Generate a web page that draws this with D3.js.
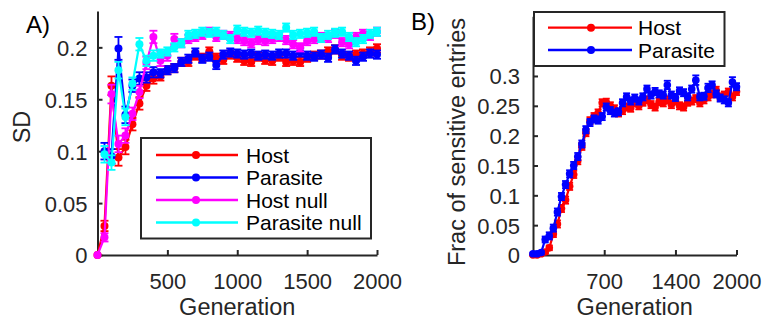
<!DOCTYPE html>
<html><head><meta charset="utf-8">
<script src="https://cdn.jsdelivr.net/npm/d3@7"></script>
<style>
body{margin:0;background:#fff}
svg{display:block}
</style>
</head><body>
<svg id="c" width="764" height="320"></svg>
<script>
// ---------- Panel A data ----------
const gensA = [0,50,100,150,200,250,300,350,400,450,500,550,600,650,700,750,800,850,900,950,1000,
  1050,1100,1150,1200,1250,1300,1350,1400,1450,1500,1550,1600,1650,1700,1750,1800,1850,1900,1950,2000];
const hostA = [0,0.028,0.163,0.094,0.104,0.126,0.146,0.163,0.170,0.172,0.178,0.180,0.186,0.186,0.192,0.190,0.196,0.190,0.188,0.193,0.190,
  0.187,0.186,0.191,0.188,0.187,0.191,0.186,0.187,0.186,0.190,0.192,0.193,0.196,0.198,0.192,0.191,0.193,0.194,0.196,0.199];
const parasiteA = [null,0.100,0.095,0.199,0.135,0.163,0.170,0.171,0.176,0.175,0.178,0.180,0.186,0.189,0.195,0.189,0.191,0.183,0.193,0.195,0.194,
  0.193,0.194,0.192,0.193,0.192,0.194,0.194,0.192,0.195,0.192,0.191,0.193,0.190,0.198,0.194,0.192,0.187,0.191,0.194,0.193];
const hostNullA = [0,0.017,0.155,0.107,0.115,0.136,0.157,0.185,0.210,0.187,0.192,0.208,0.204,0.208,0.210,0.212,0.215,0.210,0.212,0.211,0.208,
  0.206,0.204,0.207,0.206,0.208,0.210,0.207,0.203,0.200,0.206,0.208,0.210,0.209,0.213,0.205,0.203,0.210,0.213,0.211,0.215];
const parasiteNullA = [null,0.097,0.089,0.178,0.133,0.165,0.203,0.187,0.192,0.194,0.196,0.200,0.204,0.212,0.213,0.215,0.214,0.215,0.212,0.208,0.217,
  0.215,0.214,0.216,0.214,0.213,0.212,0.219,0.212,0.213,0.214,0.215,0.209,0.212,0.214,0.215,0.210,0.205,0.208,0.213,0.215];
const hostErrA = [0,0.005,0.009,0.008,0.007,0.006,0.006,0.005,0.005,0.004,0.004,0.004,0.004,0.004,0.004,0.004,0.004,0.004,0.004,0.004,0.004,
  0.004,0.004,0.004,0.004,0.004,0.004,0.004,0.004,0.004,0.004,0.004,0.004,0.004,0.004,0.004,0.004,0.004,0.004,0.004,0.004];
const parasiteErrA = [0,0.008,0.007,0.011,0.008,0.006,0.006,0.005,0.005,0.004,0.004,0.004,0.004,0.004,0.004,0.004,0.004,0.004,0.004,0.004,0.004,
  0.004,0.004,0.004,0.004,0.004,0.004,0.004,0.004,0.004,0.004,0.004,0.004,0.004,0.004,0.004,0.004,0.004,0.004,0.004,0.004];
const hostNullErrA = [0,0.004,0.009,0.008,0.007,0.006,0.006,0.006,0.006,0.005,0.005,0.005,0.004,0.004,0.004,0.004,0.004,0.004,0.004,0.004,0.004,
  0.004,0.004,0.004,0.004,0.004,0.004,0.004,0.004,0.004,0.004,0.004,0.004,0.004,0.004,0.004,0.004,0.004,0.004,0.004,0.004];
const parasiteNullErrA = [0,0.008,0.007,0.008,0.008,0.006,0.006,0.005,0.005,0.004,0.004,0.004,0.004,0.004,0.004,0.004,0.004,0.004,0.004,0.004,0.004,
  0.004,0.004,0.004,0.004,0.004,0.004,0.004,0.004,0.004,0.004,0.004,0.004,0.004,0.004,0.004,0.004,0.004,0.004,0.004,0.004];
const xTicksA = [500,1000,1500,2000];
const yTicksA = [0,0.05,0.1,0.15,0.2];
const yTickLabelsA = ["0","0.05","0.1","0.15","0.2"];
const legendA = ["Host","Parasite","Host null","Parasite null"];

// ---------- Panel B data ----------
const gensB = [0,40,80,120,160,200,240,280,320,360,400,440,480,520,560,600,640,680,720,760,800,840,880,920,960,1000,
  1040,1080,1120,1160,1200,1240,1280,1320,1360,1400,1440,1480,1520,1560,1600,1640,1680,1720,1760,1800,1840,1880,1920,1960,2000];
const hostB = [0.000,0.000,0.002,0.005,0.012,0.035,0.052,0.078,0.092,0.115,
  0.135,0.158,0.182,0.205,0.225,0.232,0.238,0.255,0.256,0.250,
  0.245,0.238,0.242,0.248,0.246,0.255,0.250,0.256,0.260,0.252,
  0.248,0.257,0.255,0.260,0.252,0.258,0.250,0.248,0.256,0.258,
  0.262,0.255,0.260,0.265,0.270,0.276,0.265,0.268,0.273,0.265,
  0.274];
const parasiteB = [0.002,0.002,0.004,0.026,0.032,0.045,0.072,0.098,0.118,0.136,
  0.150,0.165,0.186,0.210,0.222,0.228,0.226,0.232,0.248,0.242,
  0.238,0.240,0.255,0.265,0.258,0.263,0.258,0.265,0.278,0.268,
  0.274,0.270,0.268,0.285,0.268,0.264,0.275,0.272,0.265,0.278,
  0.293,0.265,0.266,0.280,0.285,0.270,0.263,0.260,0.255,0.290,
  0.282];
const hostErrB = [0.001,0.001,0.002,0.003,0.004,0.005,0.006,0.006,0.006,0.006,
  0.006,0.006,0.006,0.006,0.006,0.006,0.006,0.006,0.006,0.006,
  0.006,0.006,0.006,0.006,0.006,0.006,0.006,0.006,0.006,0.006,
  0.006,0.006,0.006,0.006,0.006,0.006,0.006,0.006,0.006,0.006,
  0.006,0.006,0.006,0.006,0.006,0.006,0.006,0.006,0.006,0.006,
  0.006];
const parasiteErrB = [0.002,0.002,0.003,0.005,0.006,0.006,0.006,0.006,0.006,0.006,
  0.006,0.006,0.006,0.006,0.006,0.006,0.006,0.006,0.006,0.006,
  0.006,0.006,0.006,0.006,0.006,0.006,0.006,0.006,0.006,0.006,
  0.006,0.006,0.006,0.007,0.006,0.006,0.006,0.006,0.006,0.006,
  0.008,0.006,0.006,0.007,0.006,0.006,0.006,0.006,0.006,0.008,
  0.006];
const xTicksB = [700,1400,2000];
const yTicksB = [0,0.05,0.1,0.15,0.2,0.25,0.3];
const yTickLabelsB = ["0","0.05","0.1","0.15","0.2","0.25","0.3"];
const legendB = ["Host","Parasite"];

// ---------- drawing ----------
const FONT = '"Liberation Sans", Arial, Helvetica, sans-serif';
const AX = '#262626';
const svg = d3.select('#c');

function panel(p) {
  const x = d3.scaleLinear().domain([0, 2000]).range(p.xr);
  const y = d3.scaleLinear().domain(p.yd).range(p.yr);
  const g = svg.append('g');

  // axes (drawn beneath data, like MATLAB)
  const xa = d3.axisBottom(x).tickValues(p.xt).tickFormat(d3.format('d'))
    .tickSizeInner(-5).tickSizeOuter(0).tickPadding(p.xpad);
  const ya = d3.axisLeft(y).tickValues(p.yt).tickFormat((d, i) => p.ytl[i])
    .tickSizeInner(-5).tickSizeOuter(0).tickPadding(p.ypad);
  const gx = g.append('g').attr('transform', `translate(0,${p.yr[0]})`).call(xa);
  const gy = g.append('g').attr('transform', `translate(${p.xr[0]},0)`).call(ya);
  [gx, gy].forEach(a => {
    a.select('.domain').attr('stroke', AX).attr('stroke-width', 2);
    a.selectAll('.tick line').attr('stroke', AX).attr('stroke-width', 2);
    a.selectAll('.tick text').attr('fill', AX).attr('font-family', FONT).attr('font-size', 22);
  });
  gy.selectAll('.tick text').attr('dy', '0.36em');

  // series
  p.series.forEach(s => {
    const pts = p.gens.map((gen, i) => ({gen, v: s.values[i], e: s.err[i]})).filter(d => d.v != null);
    const sg = g.append('g');
    sg.append('path').datum(pts)
      .attr('d', d3.line().x(d => x(d.gen)).y(d => y(d.v)))
      .attr('fill', 'none').attr('stroke', s.color).attr('stroke-width', 2.2);
    const eb = sg.append('g').attr('stroke', s.color).attr('stroke-width', 1.8);
    pts.filter(d => d.e > 0).forEach(d => {
      const cx = x(d.gen), y1 = y(d.v - d.e), y2 = y(d.v + d.e);
      eb.append('line').attr('x1', cx).attr('x2', cx).attr('y1', y1).attr('y2', y2);
      eb.append('line').attr('x1', cx - p.cap).attr('x2', cx + p.cap).attr('y1', y1).attr('y2', y1);
      eb.append('line').attr('x1', cx - p.cap).attr('x2', cx + p.cap).attr('y1', y2).attr('y2', y2);
    });
    sg.selectAll('circle').data(pts).join('circle')
      .attr('cx', d => x(d.gen)).attr('cy', d => y(d.v)).attr('r', p.r).attr('fill', s.color);
  });

  // axis labels
  g.append('text').attr('x', (p.xr[0] + p.xr[1]) / 2).attr('y', 315).attr('text-anchor', 'middle')
    .attr('font-family', FONT).attr('font-size', 23.5).attr('fill', AX).text('Generation');
  g.append('text').attr('transform', `translate(${p.ylx},${p.yly}) rotate(-90)`).attr('text-anchor', 'middle')
    .attr('font-family', FONT).attr('font-size', 23.5).attr('fill', AX).text(p.ylabel);
  g.append('text').attr('x', p.tag[0]).attr('y', p.tag[1]).attr('font-family', FONT).attr('font-size', 24)
    .attr('fill', '#000').text(p.tagText);

  // legend
  const L = p.leg;
  const lg = g.append('g');
  lg.append('rect').attr('x', L.x).attr('y', L.y).attr('width', L.w).attr('height', L.h)
    .attr('fill', '#fff').attr('stroke', AX).attr('stroke-width', 2);
  p.series.forEach((s, i) => {
    const yy = L.ys[i];
    lg.append('line').attr('x1', L.l1).attr('x2', L.l2).attr('y1', yy).attr('y2', yy)
      .attr('stroke', s.color).attr('stroke-width', 2.3);
    lg.append('circle').attr('cx', L.m).attr('cy', yy).attr('r', 4).attr('fill', s.color);
    lg.append('text').attr('x', L.t).attr('y', yy).attr('dy', '0.36em').attr('font-family', FONT)
      .attr('font-size', 21).attr('fill', '#000').text(p.names[i]);
  });
}

panel({
  gens: gensA, xr: [97.5, 377], yd: [0, 0.235], yr: [255, 11],
  xt: xTicksA, yt: yTicksA, ytl: yTickLabelsA, xpad: 18, ypad: 10,
  r: 4, cap: 4,
  series: [
    {values: hostA, err: hostErrA, color: '#ff0000'},
    {values: parasiteA, err: parasiteErrA, color: '#0000ff'},
    {values: hostNullA, err: hostNullErrA, color: '#ff00ff'},
    {values: parasiteNullA, err: parasiteNullErrA, color: '#00ffff'}
  ],
  names: legendA,
  ylabel: 'SD', ylx: 30, yly: 127,
  tag: [26, 33], tagText: 'A)',
  leg: {x: 141, y: 138, w: 230, h: 100.5, ys: [155, 177.5, 200, 222.5], l1: 156, l2: 238, m: 196, t: 246}
});

panel({
  gens: gensB, xr: [533, 736.5], yd: [0, 0.4], yr: [255, 16.3],
  xt: xTicksB, yt: yTicksB, ytl: yTickLabelsB, xpad: 18, ypad: 13,
  r: 3.8, cap: 3.5,
  series: [
    {values: hostB, err: hostErrB, color: '#ff0000'},
    {values: parasiteB, err: parasiteErrB, color: '#0000ff'}
  ],
  names: legendB,
  ylabel: 'Frac of sensitive entries', ylx: 465, yly: 142,
  tag: [411, 30], tagText: 'B)',
  leg: {x: 534, y: 12, w: 190.5, h: 54, ys: [27.7, 50], l1: 548, l2: 632, m: 591, t: 638}
});
</script>
</body></html>
